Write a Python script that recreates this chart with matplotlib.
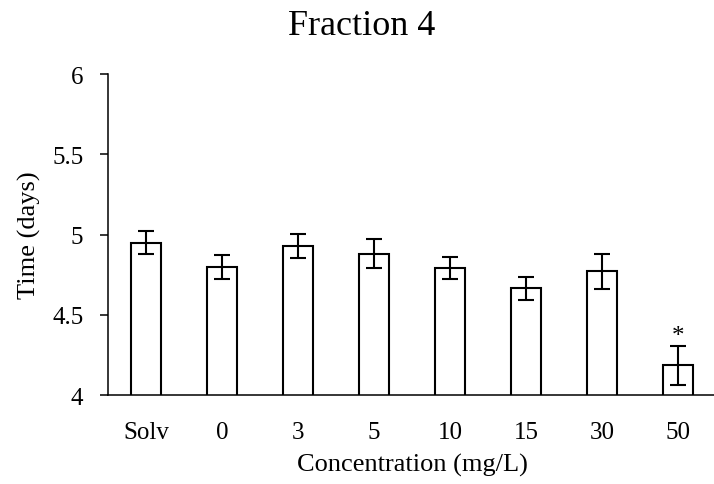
import numpy as np
import matplotlib.pyplot as plt

# development time per concentration
labels = ["Solv", "0", "3", "5", "10", "15", "30", "50"]
means = [4.95, 4.80, 4.93, 4.88, 4.79, 4.665, 4.77, 4.185]
errors = [0.07, 0.075, 0.075, 0.09, 0.068, 0.07, 0.112, 0.12]
signif = ["", "", "", "", "", "", "", "*"]

plt.rcParams['font.family'] = ['Liberation Serif', 'DejaVu Serif']

fig = plt.figure(figsize=(7.14, 4.85), dpi=100)
ax = fig.add_axes([0.1513, 0.1835, 0.8515, 0.6615])

x = np.arange(len(labels))
ax.bar(x, means, width=0.4, color='white', edgecolor='black', linewidth=1.5)
ax.errorbar(x, means, yerr=errors, fmt='none', ecolor='black',
            elinewidth=1.5, capsize=6, capthick=1.5)

for xi, m, e, s in zip(x, means, errors, signif):
    if s:
        ax.text(xi, m + e + 0.025, s, ha='center', va='baseline', fontsize=18)

ax.set_xlim(-0.5, 7.5)
ax.set_ylim(4, 6)
ax.set_yticks([4, 4.5, 5, 5.5, 6])
ax.set_yticklabels(["4", "4.5", "5", "5.5", "6"])
ax.set_xticks(x)
ax.set_xticklabels(labels)
ax.tick_params(axis='x', length=0, labelsize=18, pad=19)
ax.tick_params(axis='y', direction='out', length=5.8, width=1.1,
               labelsize=18, pad=12)

ax.spines['top'].set_visible(False)
ax.spines['right'].set_visible(False)
ax.spines['left'].set_linewidth(1.1)
ax.spines['bottom'].set_linewidth(1.1)

ax.set_xlabel("Concentration (mg/L)", fontsize=19, labelpad=7)
ax.set_ylabel("Time (days)", fontsize=19, labelpad=8)
fig.text(0.507, 0.928, "Fraction 4", ha='center', va='baseline', fontsize=26)

fig.savefig("out.png", dpi=100)
